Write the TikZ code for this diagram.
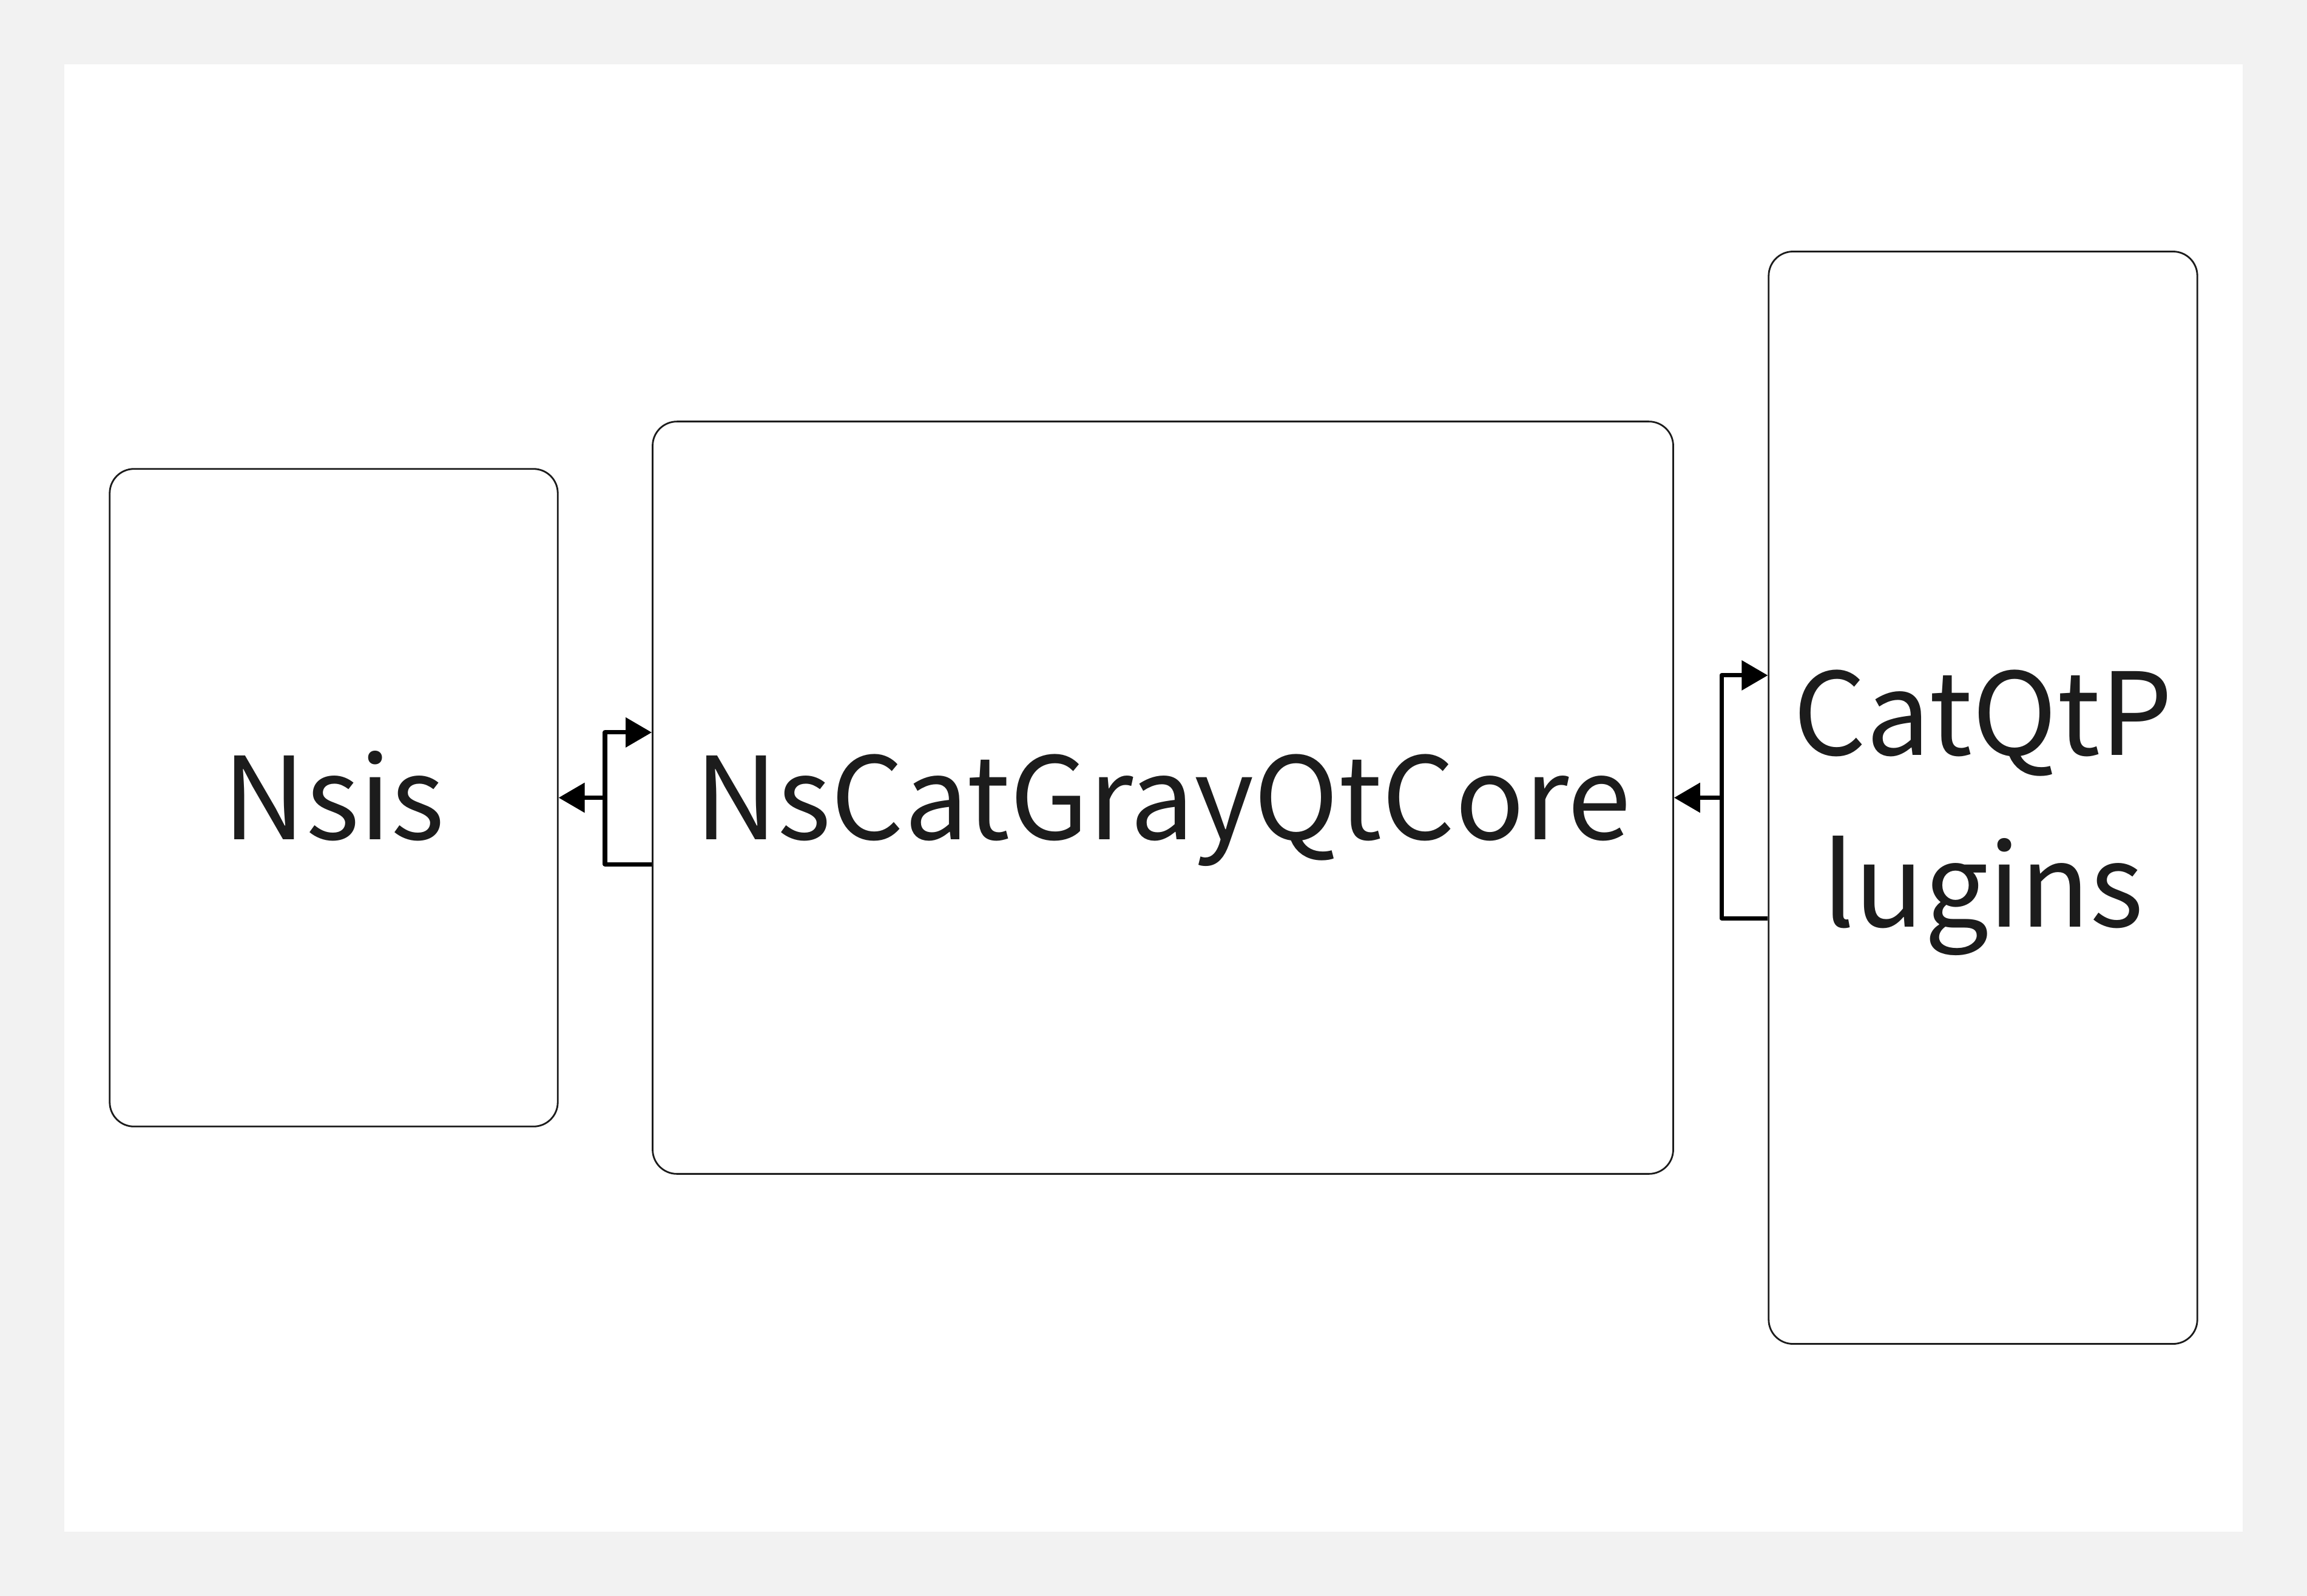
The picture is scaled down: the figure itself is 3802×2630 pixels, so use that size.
\documentclass[tikz,border=0pt]{standalone}
\usepackage{fontspec}
\usepackage{xcolor}
\usepackage{tikz}
\usetikzlibrary{arrows.meta}
\newfontfamily\boxfont{Noto Sans CJK SC}
\definecolor{pagegray}{HTML}{F2F2F2}
\definecolor{ink}{HTML}{1C1C1C}

\begin{document}
\begin{tikzpicture}[x=0.01cm,y=-0.01cm,>={Triangle[length=0.43cm,width=0.48cm]},line join=round]
    \tikzstyle{module}=[draw=ink, line width=0.8pt, rounded corners=0.4cm, inner sep=0pt, text=ink, align=center,
        font=\boxfont\fontsize{53.6pt}{80.5pt}\selectfont, text height=1.38cm, text depth=0pt]
    \tikzstyle{link}=[->, draw=black, line width=2pt]
    \useasboundingbox (0,0) rectangle (3802,2630);
    \fill[pagegray] (0,0) rectangle (3802,2630);
    \fill[white] (106,106) rectangle (3696,2524);
    \node[module, minimum width=7.38cm, minimum height=10.83cm] (nsis) at (550,1314.5) {Nsis};
    \node[module, minimum width=16.81cm, minimum height=12.39cm] (core) at (1916.5,1314.5) {NsCatGrayQtCore};
    \node[module, minimum width=7.06cm, minimum height=17.99cm, text height=4.25cm] (plug) at (3268,1314.5) {CatQtP\\lugins};
    \coordinate (lsplit) at (997,1314.5);
    \coordinate (rsplit) at (2837,1314.5);
    \draw[link] ([yshift=-1.095cm]core.west) -| (lsplit) |- ([yshift=1.075cm]core.west);
    \draw[link] (lsplit) -- (nsis.east);
    \draw[link] ([yshift=-1.985cm]plug.west) -| (rsplit) |- ([yshift=2.015cm]plug.west);
    \draw[link] (rsplit) -- (core.east);
\end{tikzpicture}
\end{document}
